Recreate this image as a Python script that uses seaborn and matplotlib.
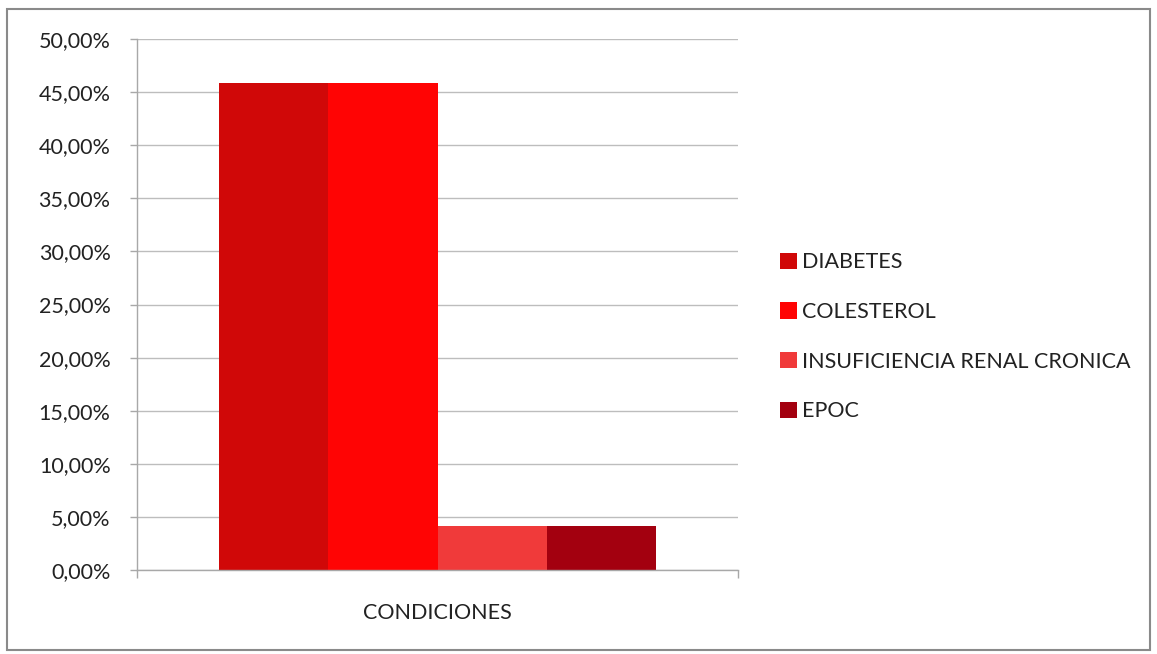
import pandas as pd
import matplotlib
matplotlib.use("Agg")
import matplotlib.pyplot as plt
from matplotlib.patches import Rectangle
from matplotlib.ticker import FuncFormatter, MultipleLocator
import seaborn as sns

# data
category = ["CONDICIONES"]
series = ["DIABETES", "COLESTEROL", "INSUFICIENCIA RENAL CRONICA", "EPOC"]
values = [0.4583, 0.4583, 0.0417, 0.0417]
colors = ["#D00808", "#FF0404", "#F03A3A", "#A3000F"]

df = pd.DataFrame({"cat": category * len(series), "serie": series, "val": values})

sns.set_theme(style="white")
plt.rcParams["font.family"] = ["Lato", "DejaVu Sans"]
FS = 15.5

fig = plt.figure(figsize=(11.57, 6.54), dpi=100)
ax = fig.add_axes([0.1184, 0.1284, 0.5195, 0.812])

sns.barplot(data=df, x="cat", y="val", hue="serie", hue_order=series,
            palette=colors, saturation=1, width=0.727, gap=0, ax=ax,
            edgecolor="none", linewidth=0)

ax.set_xlim(-0.5, 0.5)
ax.set_ylim(0, 0.5)
ax.yaxis.set_major_locator(MultipleLocator(0.05))
ax.yaxis.set_major_formatter(FuncFormatter(lambda v, _: f"{v*100:.2f}%".replace(".", ",")))
ax.grid(axis="y", color="#BDBDBD", linewidth=1)
ax.set_axisbelow(True)
ax.set_xlabel("")
ax.set_ylabel("")

for s in ["top", "right"]:
    ax.spines[s].set_visible(False)
for s in ["left", "bottom"]:
    ax.spines[s].set_color("#A8A8A8")
    ax.spines[s].set_linewidth(1)

ax.tick_params(axis="y", length=5, width=1, color="#A8A8A8", pad=14,
               labelsize=FS, labelcolor="#222222", left=True)
ax.tick_params(axis="x", which="major", length=0, pad=24,
               labelsize=FS, labelcolor="#222222")
ax.set_xticks([-0.5, 0.5], minor=True)
ax.tick_params(axis="x", which="minor", length=6, width=1, color="#A8A8A8",
               bottom=True, direction="out")

handles, labels = ax.get_legend_handles_labels()
ax.legend(handles, labels, loc="center left", bbox_to_anchor=(0.674, 0.485),
          bbox_transform=fig.transFigure, frameon=False, fontsize=FS,
          borderpad=0, borderaxespad=0,
          handlelength=0.8, handleheight=0.8, handletextpad=0.25,
          labelspacing=1.38, labelcolor="#222222")

fig.patches.append(Rectangle((0.006, 0.006), 0.988, 0.981, transform=fig.transFigure,
                             fill=False, edgecolor="#8A8A8A", linewidth=1.5))

fig.savefig("out.png", dpi=100, facecolor="white")
